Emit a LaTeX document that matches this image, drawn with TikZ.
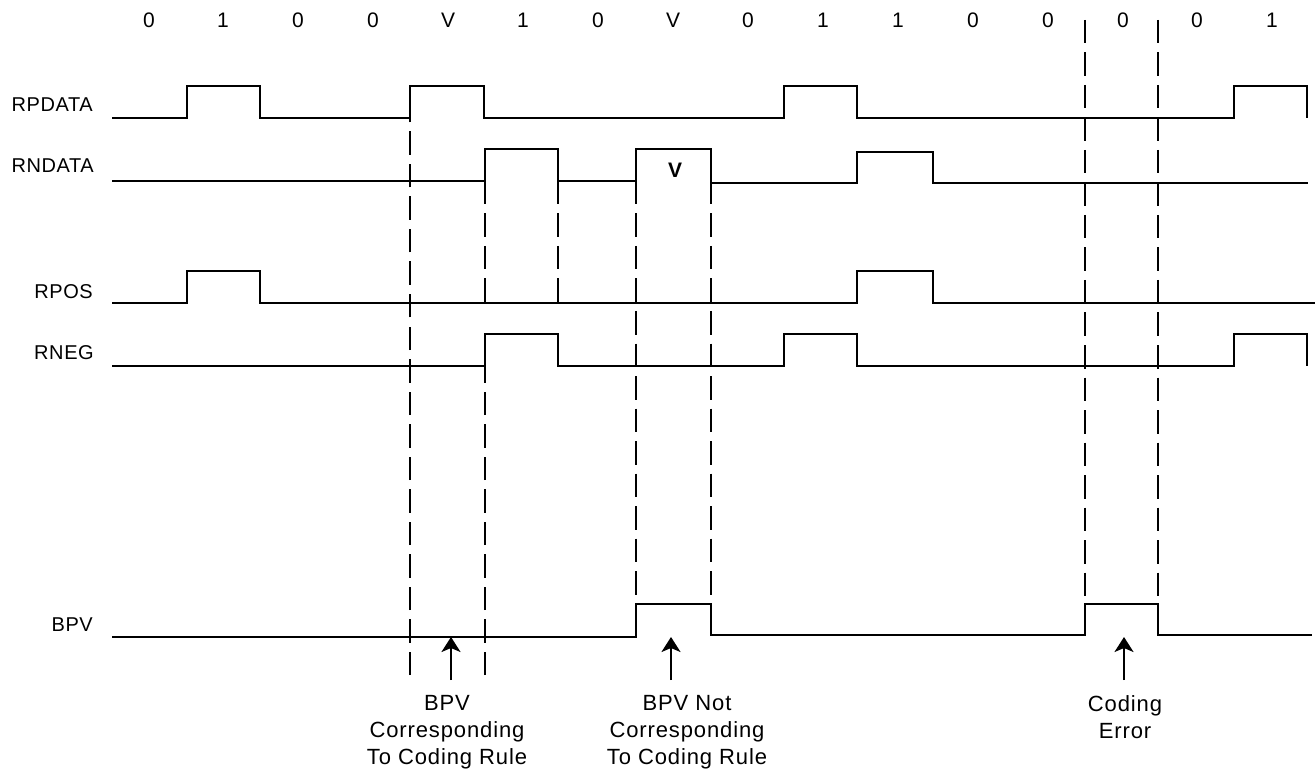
\documentclass[tikz,border=0pt]{standalone}
\usepackage{fontspec}
\setmainfont{Liberation Sans}
\usetikzlibrary{arrows.meta}
\begin{document}
\begin{tikzpicture}
  [
    x=1pt, y=-1pt,
    wave/.style =
      {draw, line width=2.3pt},
    guide/.style =
      {draw, line width=2.3pt, dash pattern=on 23.5pt off 9pt},
    note/.style =
      {->, >={Stealth[length=15pt, width=19pt, inset=4pt]}, line width=2.3pt},
    bit/.style =
      {font=\fontsize{21}{24}\selectfont, inner sep=0pt},
    signame/.style =
      {font=\fontsize{20}{24}\selectfont\addfontfeature{LetterSpace=3}, inner sep=0pt, anchor=east},
    remark/.style =
      {font=\fontsize{22}{27}\selectfont\addfontfeature{LetterSpace=4}, inner sep=0pt, anchor=north, align=center}
  ]
  \useasboundingbox (0,0) rectangle (1316,775);

  \node [bit] at ( 149,20) (b1)  {0};
  \node [bit] at ( 223,20) (b2)  {1};
  \node [bit] at ( 298,20) (b3)  {0};
  \node [bit] at ( 373,20) (b4)  {0};
  \node [bit] at ( 448,20) (b5)  {V};
  \node [bit] at ( 523,20) (b6)  {1};
  \node [bit] at ( 598,20) (b7)  {0};
  \node [bit] at ( 673,20) (b8)  {V};
  \node [bit] at ( 748,20) (b9)  {0};
  \node [bit] at ( 823,20) (b10) {1};
  \node [bit] at ( 898,20) (b11) {1};
  \node [bit] at ( 973,20) (b12) {0};
  \node [bit] at (1048,20) (b13) {0};
  \node [bit] at (1123,20) (b14) {0};
  \node [bit] at (1197,20) (b15) {0};
  \node [bit] at (1272,20) (b16) {1};

  \node [signame] at (93,105) (rpdata) {RPDATA};
  \node [signame] at (94,166) (rndata) {RNDATA};
  \node [signame] at (93,292) (rpos)   {RPOS};
  \node [signame] at (94,353) (rneg)   {RNEG};
  \node [signame] at (93,625) (bpv)    {BPV};

  \node [font=\fontsize{21}{24}\selectfont\bfseries, inner sep=0pt] at (675,170) (viol) {V};

  \node [remark] at ( 447,695) (rule)   {BPV\\Corresponding\\To Coding Rule};
  \node [remark] at ( 687,695) (norule) {BPV Not\\Corresponding\\To Coding Rule};
  \node [remark] at (1125,695) (error)  {Coding\\Error};

  \draw [guide] ( 410,675) -- ( 410,118);
  \draw [guide] ( 485,181) -- ( 485,303);
  \draw [guide] ( 485,675) -- ( 485,366);
  \draw [guide] ( 558,181) -- ( 558,303);
  \draw [guide] ( 636,181) -- ( 636,637);
  \draw [guide] ( 711,181) -- ( 711,635);
  \draw [guide] (1085,20)  -- (1085,635);
  \draw [guide] (1158,20)  -- (1158,635);

  \draw [wave] (112,118) -- (187,118) -- (187,86) -- (260,86) -- (260,118)
    -- (410,118) -- (410,86) -- (484,86) -- (484,118) -- (784,118) -- (784,86)
    -- (857,86) -- (857,118) -- (1234,118) -- (1234,86) -- (1307,86) -- (1307,118);
  \draw [wave] (112,181) -- (485,181) -- (485,149) -- (558,149) -- (558,181)
    -- (636,181) -- (636,149) -- (711,149) -- (711,183) -- (857,183) -- (857,152)
    -- (933,152) -- (933,183) -- (1308,183);
  \draw [wave] (112,303) -- (187,303) -- (187,271) -- (260,271) -- (260,303)
    -- (857,303) -- (857,271) -- (933,271) -- (933,303) -- (1315,303);
  \draw [wave] (112,366) -- (485,366) -- (485,334) -- (558,334) -- (558,366)
    -- (784,366) -- (784,334) -- (857,334) -- (857,366) -- (1234,366) -- (1234,334)
    -- (1307,334) -- (1307,366);
  \draw [wave] (112,637) -- (636,637) -- (636,604) -- (711,604) -- (711,635)
    -- (1085,635) -- (1085,604) -- (1158,604) -- (1158,635) -- (1312,635);

  \coordinate (t1) at ( 451,680);
  \coordinate (h1) at ( 451,637);
  \coordinate (t2) at ( 671,680);
  \coordinate (h2) at ( 671,637);
  \coordinate (t3) at (1124,680);
  \coordinate (h3) at (1124,637);
  \draw [note] (t1) -- (h1);
  \draw [note] (t2) -- (h2);
  \draw [note] (t3) -- (h3);

\end{tikzpicture}
\end{document}
